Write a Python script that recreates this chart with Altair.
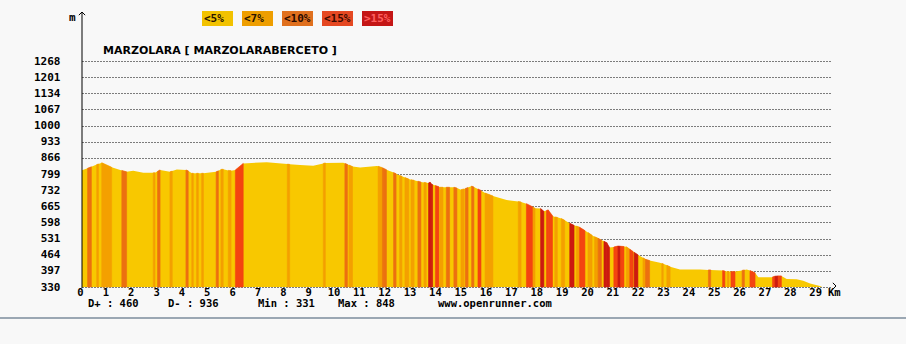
import altair as alt
import pandas as pd

# ---------------- data ----------------
# profile breakpoints (km, m) and slope class of the segment that starts there
dist_km = [
    0.00, 0.22, 0.37, 0.58, 0.65, 0.78, 1.17, 1.57, 1.76, 2.02,
    2.42, 2.81, 2.88, 2.98, 3.08, 3.47, 3.56, 3.74, 4.10, 4.19,
    4.33, 4.39, 4.52, 4.59, 4.72, 4.79, 5.29, 5.38, 5.48, 5.57,
    5.77, 5.88, 6.05, 6.36, 7.29, 8.10, 8.19, 8.60, 9.12, 9.52,
    9.60, 10.31, 10.37, 10.47, 10.53, 10.67, 10.97, 11.63, 11.68, 11.83,
    11.85, 11.89, 12.01, 12.29, 12.35, 12.39, 12.53, 12.62, 12.74, 12.89,
    12.98, 13.10, 13.25, 13.37, 13.49, 13.58, 13.67, 13.73, 13.79, 13.83,
    13.94, 14.08, 14.12, 14.24, 14.37, 14.50, 14.67, 14.79, 14.95, 15.07,
    15.12, 15.23, 15.37, 15.46, 15.62, 15.74, 15.90, 16.21, 16.75, 17.21,
    17.32, 17.53, 17.79, 17.87, 18.09, 18.22, 18.32, 18.39, 18.56, 18.65,
    18.75, 18.91, 19.04, 19.24, 19.41, 19.50, 19.63, 19.84, 19.96, 20.12,
    20.22, 20.36, 20.49, 20.59, 20.70, 20.81, 20.98, 21.14, 21.25, 21.38,
    21.47, 21.61, 21.74, 21.78, 21.93, 22.13, 22.23, 22.39, 22.80, 22.87,
    22.93, 23.07, 23.20, 23.59, 24.38, 24.71, 24.80, 25.27, 25.36, 25.46,
    25.52, 25.60, 25.76, 26.04, 26.13, 26.22, 26.35, 26.55, 26.68, 27.21,
    27.24, 27.34, 27.46, 27.59, 27.80, 28.19, 28.45, 28.72, 29.11, 29.18,
]
elev_m = [
    815, 823, 829, 838, 841, 846, 827, 814, 808, 813,
    804, 804, 804, 810, 816, 808, 811, 818, 816, 812,
    802, 802, 802, 802, 802, 802, 808, 812, 818, 819,
    814, 813, 816, 843, 848, 840, 839, 836, 833, 843,
    845, 846, 843, 839, 836, 830, 826, 832, 831, 826,
    825, 823, 817, 805, 802, 800, 793, 790, 784, 778,
    775, 773, 769, 766, 764, 763, 762, 765, 757, 755,
    751, 746, 744, 744, 744, 744, 744, 741, 734, 737,
    739, 743, 749, 745, 737, 731, 720, 708, 691, 685,
    683, 676, 662, 657, 656, 644, 647, 650, 626, 621,
    619, 614, 607, 595, 586, 583, 578, 564, 556, 545,
    539, 532, 525, 520, 514, 494, 496, 500, 499, 498,
    497, 487, 477, 474, 464, 451, 445, 440, 431, 428,
    426, 420, 414, 403, 403, 401, 401, 398, 396, 394,
    394, 394, 394, 399, 401, 403, 398, 389, 370, 370,
    372, 375, 376, 376, 363, 362, 356, 345, 334, 331,
]
grade = [
    1, 3, 1, 2, 1, 2, 1, 3, 1, 1,
    1, 2, 1, 3, 1, 2, 1, 1, 3, 1,
    2, 1, 2, 1, 2, 1, 3, 1, 2, 1,
    2, 1, 4, 1, 1, 2, 1, 1, 1, 2,
    1, 1, 3, 1, 2, 1, 1, 1, 2, 1,
    3, 3, 1, 3, 3, 1, 2, 1, 2, 1,
    2, 1, 3, 1, 2, 1, 5, 5, 5, 1,
    4, 1, 2, 1, 3, 1, 3, 1, 2, 1,
    3, 1, 3, 1, 4, 1, 2, 1, 1, 2,
    1, 4, 2, 1, 5, 1, 4, 4, 1, 2,
    1, 2, 1, 5, 1, 2, 4, 1, 2, 1,
    2, 3, 1, 5, 5, 1, 4, 5, 4, 1,
    2, 4, 1, 5, 1, 2, 3, 1, 1, 2,
    1, 2, 1, 1, 1, 3, 1, 4, 1, 2,
    1, 4, 1, 3, 1, 1, 4, 1, 1, 1,
    4, 5, 4, 1, 1, 1, 1, 1, 1, 1,
]

grade_names = ["<5%", "<7%", "<10%", "<15%", ">15%"]
grade_colors = ["#F8C800", "#F4A000", "#EC7010", "#F44410", "#CC1A10"]
legend_colors = ["#F2C200", "#EE9E00", "#E0701E", "#E54822", "#C41616"]
legend_text_colors = ["#2a1400", "#2a1400", "#2a0a00", "#3a0a00", "#ff6060"]

y_ticks = [330, 397, 464, 531, 598, 665, 732, 799, 866, 933, 1000, 1067, 1134, 1201, 1268]
x_ticks = [0, 1, 2, 3, 4, 5, 6, 7, 8, 9, 10, 11, 12, 13, 14,
           15, 16, 17, 18, 19, 20, 21, 22, 23, 24, 25, 26, 27, 28, 29]

title_text = "MARZOLARA [ MARZOLARABERCETO ]"
stat_labels = ["D+", "D-", "Min", "Max"]
stat_values = [460, 936, 331, 848]
site_text = "www.openrunner.com"

# ---------------- layout ----------------
W, H = 750, 226
PX_PER_KM = 25.35
X_MAX = W / PX_PER_KM
LEFT, TOP = 82, 61
MONO = "DejaVu Sans Mono"

xs = alt.Scale(domain=[0, X_MAX], nice=False, zero=False)
ys = alt.Scale(domain=[330, 1268], nice=False, zero=False)
cs = alt.Scale(domain=grade_names, range=grade_colors)

prof = pd.DataFrame({"km": dist_km, "m": elev_m})
rows = []
for i in range(len(dist_km) - 1):
    if grade[i] > 1:
        for j in (i, i + 1):
            rows.append({"seg": i, "km": dist_km[j], "m": elev_m[j],
                         "g": grade_names[grade[i] - 1]})
segs = pd.DataFrame(rows)

base = alt.Chart(prof).mark_area(color=grade_colors[0]).encode(
    x=alt.X("km:Q", scale=xs, axis=alt.Axis(
        values=x_ticks, tickCount=200, grid=False, domain=False, ticks=False, tickSize=0,
        labelPadding=0, labelFont=MONO, labelFontWeight="bold", labelFontSize=10.5,
        labelColor="#000", title=None, labelFlush=False, labelOverlap=False,
        labelOffset=-2, format="d")),
    y=alt.Y("m:Q", scale=ys, axis=alt.Axis(
        values=y_ticks, tickCount=200, grid=True, gridDash=[1, 2], gridColor="#000",
        gridOpacity=1, gridWidth=1, domain=False, ticks=False, tickSize=0,
        labelPadding=22, labelFont=MONO, labelFontWeight="bold", labelFontSize=11,
        labelColor="#000", title=None, labelFlush=False, labelOverlap=False,
        format="d")),
    y2=alt.datum(330),
)

stripes = alt.Chart(segs).mark_area(strokeWidth=0.6).encode(
    x=alt.X("km:Q", scale=xs),
    y=alt.Y("m:Q", scale=ys),
    y2=alt.datum(330),
    color=alt.Color("g:N", scale=cs, legend=None),
    stroke=alt.Stroke("g:N", scale=cs, legend=None),
    detail="seg:N",
)


def txt(s, x, y, size=11, font=MONO, weight="bold", align="left", color="#000"):
    return alt.Chart(pd.DataFrame({"t": [s]})).mark_text(
        align=align, baseline="middle", font=font, fontSize=size,
        fontWeight=weight, color=color,
    ).encode(x=alt.value(x), y=alt.value(y), text="t:N")


layers = [base, stripes]

# y axis line with arrow
layers.append(alt.Chart(pd.DataFrame({"a": [0]})).mark_rule(color="#000", strokeWidth=1).encode(
    x=alt.value(0), y=alt.value(-49), y2=alt.value(H + 1)))
layers.append(alt.Chart(pd.DataFrame({"a": [0]})).mark_point(
    shape="M-1,1L0,0L1,1", size=40, filled=False, color="#000", strokeWidth=1, opacity=1).encode(
    x=alt.value(0), y=alt.value(-49)))
layers.append(txt("m", -13, -43))

# x axis end arrow and unit
layers.append(alt.Chart(pd.DataFrame({"a": [0]})).mark_point(
    shape="M-1,-1L0,0L-1,1", size=40, filled=False, color="#000", strokeWidth=1, opacity=1).encode(
    x=alt.value(W + 4), y=alt.value(H - 1)))
layers.append(txt("Km", W - 4, H + 6, size=10.5))

# title
layers.append(txt(title_text, 21, -10, size=11, font="DejaVu Sans"))

# legend boxes
for i, name in enumerate(grade_names):
    x0 = 120 + 40 * i
    layers.append(alt.Chart(pd.DataFrame({"a": [0]})).mark_rect(color=legend_colors[i]).encode(
        x=alt.value(x0), x2=alt.value(x0 + 31), y=alt.value(-50), y2=alt.value(-35)))
    layers.append(txt(name, x0 + 2, -42.5, color=legend_text_colors[i]))

# stats line
stat_x = [6, 86, 176, 256]
for lab, val, sx in zip(stat_labels, stat_values, stat_x):
    layers.append(txt(f"{lab} : {val}", sx, H + 17, size=10.5))
layers.append(txt(site_text, 356, H + 17, size=10.5))

# separator line
layers.append(alt.Chart(pd.DataFrame({"a": [0]})).mark_rule(color="#7d8d9c", strokeWidth=1.5).encode(
    x=alt.value(-LEFT), x2=alt.value(906 - LEFT), y=alt.value(257)))

chart = alt.layer(*layers).properties(
    width=W, height=H,
    autosize=alt.AutoSizeParams(type="none"),
    padding={"left": LEFT, "top": TOP, "right": 906 - LEFT - W, "bottom": 344 - TOP - H},
    background="#f8f8f8",
).configure_view(stroke=None)

chart.save("out.html", embed_options={"renderer": "svg", "actions": False})
